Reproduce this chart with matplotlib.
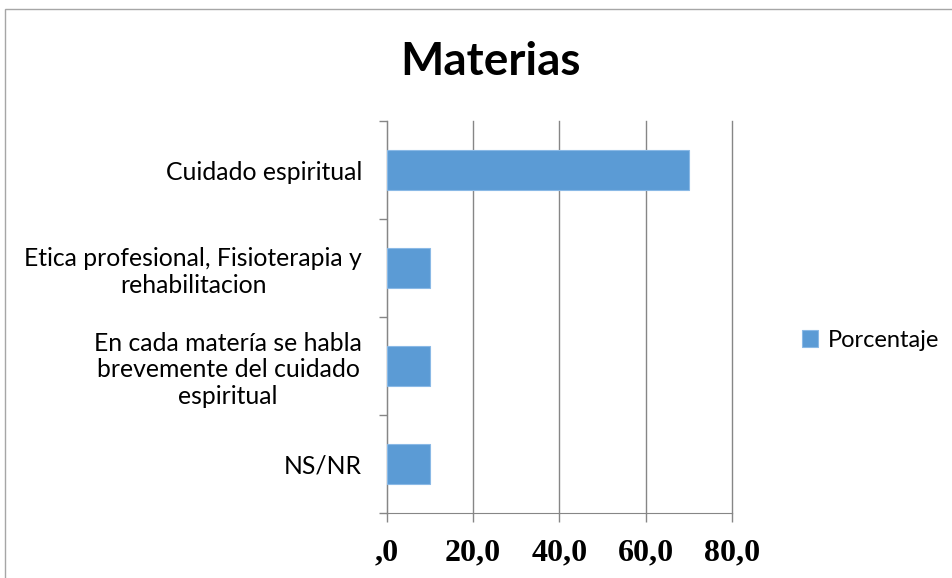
import matplotlib
matplotlib.use("Agg")
import matplotlib.pyplot as plt
from matplotlib.patches import Rectangle

categorias = [
    "Cuidado espiritual",
    "Etica profesional, Fisioterapia y\nrehabilitacion",
    "En cada matería se habla\nbrevemente del cuidado\nespiritual",
    "NS/NR",
]
porcentaje = [70.0, 10.0, 10.0, 10.0]
xticks = [0, 20, 40, 60, 80]
xtick_labels = [",0", "20,0", "40,0", "60,0", "80,0"]

fig = plt.figure(figsize=(9.53, 5.78), dpi=100)
ax = fig.add_axes([0.406, 0.1125, 0.362, 0.678])

# outer chart frame
fig.patches.append(Rectangle((5 / 953, -0.1), 1.2, 0.9844 + 0.1, transform=fig.transFigure,
                             fill=False, edgecolor="#a6a6a6", linewidth=1))

ypos = list(range(len(categorias)))
ax.barh(ypos, porcentaje, height=0.4, color="#5b9bd5", edgecolor="#8ab9e6",
        linewidth=0.8, label="Porcentaje", zorder=3)

ax.set_xlim(0, 80)
ax.set_ylim(len(categorias) - 0.5, -0.5)

ax.set_xticks(xticks)
ax.set_xticklabels(xtick_labels, fontfamily="Liberation Serif", fontweight="bold", fontsize=23)
ax.tick_params(axis="x", length=6.5, width=1, color="#868686", pad=12)

ax.set_yticks(ypos)
ax.set_yticklabels(categorias, fontfamily="Lato", fontsize=17.8, multialignment="center",
                   linespacing=1.2)
ax.tick_params(axis="y", length=0, pad=18)
ax.set_yticks([i - 0.5 for i in range(len(categorias) + 1)], minor=True)
ax.tick_params(axis="y", which="minor", length=6, width=1, color="#868686")

ax.grid(axis="x", color="#868686", linewidth=1, zorder=0)
for gl in ax.get_xgridlines():
    gl.set_clip_on(False)
for s in ["top", "right"]:
    ax.spines[s].set_visible(False)
for s in ["left", "bottom"]:
    ax.spines[s].set_color("#868686")

fig.text(0.515, 0.893, "Materias", fontfamily="Lato", fontweight="bold", fontsize=33,
         ha="center", va="center")

leg = ax.legend(loc="center left", bbox_to_anchor=(1.203, 0.441), frameon=False,
                prop={"family": "Lato", "size": 17}, handlelength=0.7, handleheight=0.7,
                handletextpad=0.4, borderaxespad=0, borderpad=0)

fig.savefig("out.png", dpi=100)
